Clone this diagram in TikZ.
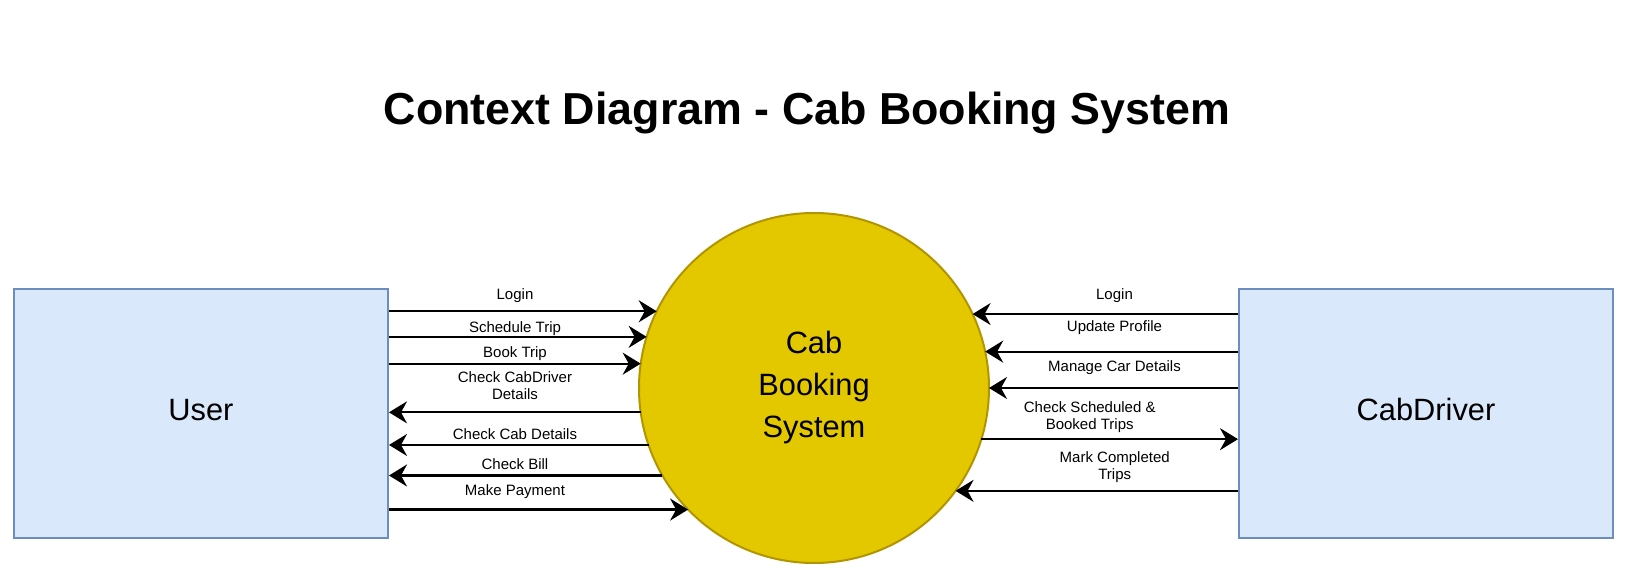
\documentclass[tikz,border=0pt]{standalone}
\usepackage{fontspec}
\setmainfont{Liberation Sans}
\usetikzlibrary{arrows.meta}
\definecolor{boxfill}{HTML}{DAE8FC}
\definecolor{boxline}{HTML}{6C8EBF}
\definecolor{sysfill}{HTML}{E3C800}
\definecolor{sysline}{HTML}{B09500}

\begin{document}
\begin{tikzpicture} [x=.5pt,y=-.5pt,
  entity/.style={draw=boxline, fill=boxfill, line width=1pt, minimum width=187pt, minimum height=124.5pt, inner sep=0, text depth=4pt, font=\fontsize{15.4}{21}\selectfont},
  process/.style={circle, draw=sysline, fill=sysfill, line width=1pt, minimum size=175pt, inner sep=0, outer sep=0, align=center, font=\fontsize{15.4}{21}\selectfont},
  flow/.style={black, line width=1.1pt, ->, >={Stealth[length=9pt,width=11pt,inset=3pt]}},
  lbl/.style={anchor=base, align=center, inner sep=0, font=\fontsize{7.5}{8.8}\selectfont}]
\useasboundingbox (0,0) rectangle (1630,582);
\node[anchor=base, font=\fontsize{22.4}{27}\selectfont\bfseries] (title) at (807,125) {Context Diagram - Cab Booking System};
\node[entity] (user) at (201,413.5) {User};
\node[entity] (driver) at (1426,413.5) {CabDriver};
\node[process] (cbs) at (814,388) {Cab\\Booking\\System};
% user side
\foreach \a in {154.6,163.7,172.1,224.2} {
 \draw[flow] (user.east |- cbs.\a) -- (cbs.\a);
}
\foreach \a in {188.2,199.4,210.2} {
 \draw[flow] (cbs.\a) -- (user.east |- cbs.\a);
}
% driver side
\foreach \a in {25.4,12.2,0,324.75} {
 \draw[flow] (driver.west |- cbs.\a) -- (cbs.\a);
}
\draw[flow] (cbs.343.4) -- (driver.west |- cbs.343.4);
% flow labels (base = last line)
\node[lbl] (lLogin) at (515,300) {Login};
\node[lbl] (lSched) at (515,332.7) {Schedule Trip};
\node[lbl] (lBook) at (515,358) {Book Trip};
\node[lbl] (lCabDrv) at (515,400) {Check CabDriver\\Details};
\node[lbl] (lCabDet) at (515,440) {Check Cab Details};
\node[lbl] (lBill) at (515,470) {Check Bill};
\node[lbl] (lPay) at (515,496) {Make Payment};
\node[lbl] (rLogin) at (1114.5,300) {Login};
\node[lbl] (rProfile) at (1114.5,332) {Update Profile};
\node[lbl] (rCar) at (1114.5,372) {Manage Car Details};
\node[lbl] (rTrips) at (1089.7,430) {Check Scheduled \&\\Booked Trips};
\node[lbl] (rDone) at (1114.7,480) {Mark Completed\\Trips};
\end{tikzpicture}
\end{document}
